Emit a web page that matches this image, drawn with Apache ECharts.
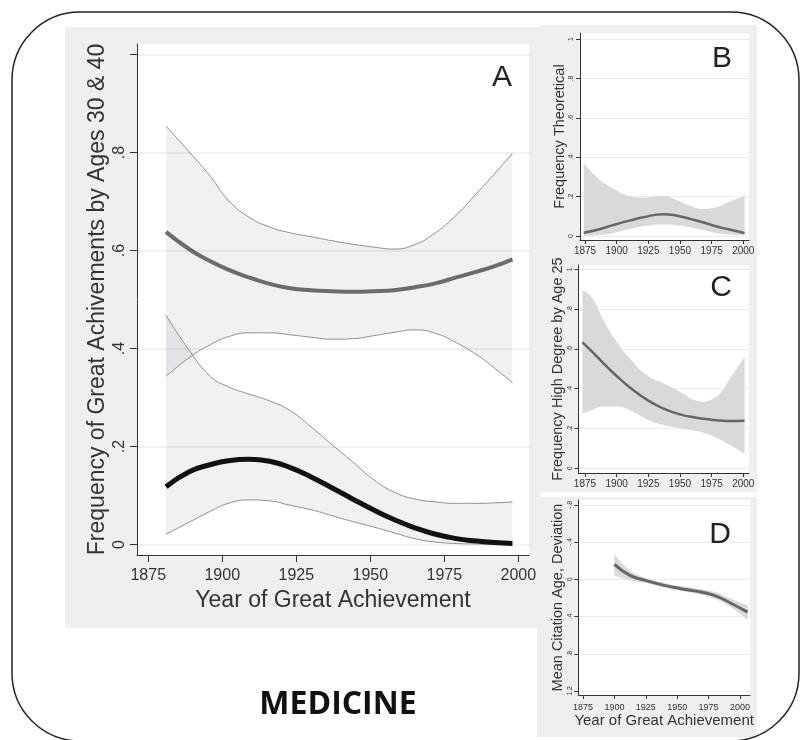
<!DOCTYPE html>
<html>
<head>
<meta charset="utf-8">
<script src="https://cdn.jsdelivr.net/npm/echarts@6/dist/echarts.min.js"></script>
<style>
  html, body { margin: 0; padding: 0; background: #fff; }
  #chart { width: 801px; height: 740px; }
</style>
</head>
<body>
<div id="chart"></div>
<script>
  // panel A: achievements by age 40 (upper) and age 30 (lower)
  const yearsA = [1881, 1889, 1896, 1902, 1909, 1916, 1923, 1930, 1937, 1944, 1951, 1958, 1965, 1972, 1979, 1986, 1992, 1998]
  const age40Fit = [0.638, 0.602, 0.578, 0.561, 0.545, 0.532, 0.523, 0.519, 0.517, 0.516, 0.517, 0.519, 0.525, 0.533, 0.545, 0.557, 0.568, 0.582]
  const age40Lo = [0.343, 0.382, 0.408, 0.424, 0.432, 0.432, 0.428, 0.423, 0.419, 0.420, 0.426, 0.433, 0.438, 0.431, 0.412, 0.387, 0.360, 0.330]
  const age40Hi = [0.854, 0.800, 0.751, 0.703, 0.668, 0.648, 0.636, 0.628, 0.620, 0.613, 0.607, 0.603, 0.612, 0.636, 0.672, 0.717, 0.757, 0.798]
  const age30Fit = [0.118, 0.149, 0.163, 0.171, 0.174, 0.170, 0.157, 0.138, 0.116, 0.093, 0.071, 0.051, 0.034, 0.021, 0.012, 0.007, 0.004, 0.002]
  const age30Lo = [0.021, 0.046, 0.068, 0.084, 0.091, 0.089, 0.080, 0.071, 0.059, 0.047, 0.036, 0.024, 0.012, 0.005, 0.002, 0.001, 0.000, 0.000]
  const age30Hi = [0.468, 0.395, 0.343, 0.322, 0.307, 0.293, 0.273, 0.240, 0.204, 0.169, 0.133, 0.107, 0.093, 0.087, 0.084, 0.084, 0.085, 0.087]

  // panel B: frequency theoretical
  const yearsB = [1874, 1885, 1897, 1910, 1921, 1937, 1947, 1958, 1968, 1979, 1989, 2001]
  const theoFit = [0.017, 0.032, 0.055, 0.078, 0.095, 0.111, 0.104, 0.087, 0.070, 0.048, 0.033, 0.015]
  const theoLo = [0.000, 0.005, 0.014, 0.035, 0.050, 0.059, 0.055, 0.045, 0.030, 0.015, 0.007, 0.003]
  const theoHi = [0.369, 0.295, 0.242, 0.203, 0.195, 0.203, 0.183, 0.154, 0.137, 0.146, 0.174, 0.203]

  // panel C: frequency high degree by age 25
  const yearsC = [1873, 1880, 1890, 1900, 1912, 1925, 1937, 1950, 1963, 1969, 1976, 1982, 1990, 2001]
  const degreeFit = [0.633, 0.590, 0.525, 0.464, 0.398, 0.340, 0.300, 0.271, 0.254, 0.249, 0.243, 0.240, 0.238, 0.239]
  const degreeLo = [0.276, 0.292, 0.310, 0.310, 0.287, 0.243, 0.218, 0.201, 0.187, 0.178, 0.162, 0.143, 0.115, 0.075]
  const degreeHi = [0.893, 0.862, 0.740, 0.636, 0.540, 0.462, 0.427, 0.385, 0.340, 0.335, 0.350, 0.380, 0.455, 0.561]

  // panel D: mean citation age deviation
  const yearsD = [1900, 1912, 1924, 1939, 1952, 1965, 1979, 1992, 2006]
  const citeFit = [-0.161, -0.046, 0.008, 0.061, 0.097, 0.126, 0.169, 0.251, 0.352]
  const citeLo = [-0.272, -0.100, -0.021, 0.036, 0.072, 0.097, 0.133, 0.204, 0.276]
  const citeHi = [-0.046, 0.008, 0.036, 0.086, 0.122, 0.151, 0.204, 0.294, 0.437]

  const yearTicks = [1875, 1900, 1925, 1950, 1975, 2000]
  const freqTicks = [0, 0.2, 0.4, 0.6, 0.8, 1]
  const freqLabelsA = [0, 0.2, 0.4, 0.6, 0.8]
  const citeTicks = [-0.8, -0.4, 0, 0.4, 0.8, 1.2]

  const ink = '#333'

  function fmt(v) {
    if (Math.abs(v) < 1e-9) return '0'
    return String(+v.toFixed(2)).replace('0.', '.')
  }

  function pairs(xs, ys) {
    return xs.map((x, i) => [x, ys[i]])
  }

  // value first, year second, so the stack runs on the y values
  function band(idx, stack, xs, lo, hi, fill, edge) {
    const line = edge ? { color: '#8e8e8e', width: 1 } : { width: 0 }
    const common = {
      type: 'line', xAxisIndex: idx, yAxisIndex: idx, stack: stack, stackStrategy: 'all',
      encode: { x: 1, y: 0 }, smooth: 0.5, symbol: 'none', lineStyle: line, silent: true
    }
    return [
      Object.assign({}, common, {
        data: xs.map((x, i) => [lo[i], x])
      }),
      Object.assign({}, common, {
        data: xs.map((x, i) => [+(hi[i] - lo[i]).toFixed(4), x]),
        areaStyle: { color: fill, opacity: 1 }
      })
    ]
  }

  function fitLine(idx, xs, ys, color, width) {
    return {
      type: 'line', xAxisIndex: idx, yAxisIndex: idx,
      data: pairs(xs, ys), smooth: 0.5, symbol: 'none', silent: true,
      lineStyle: { color: color, width: width }
    }
  }

  function xAxis(idx, min, max, fontSize, margin, name, nameSize, nameGap) {
    return {
      gridIndex: idx, type: 'value', min: min, max: max,
      axisLine: { onZero: false, lineStyle: { color: ink, width: 1 } },
      axisTick: { customValues: yearTicks, length: fontSize > 12 ? 7 : 4, lineStyle: { color: ink } },
      axisLabel: { customValues: yearTicks, fontSize: fontSize, color: ink, margin: margin, formatter: v => String(v) },
      splitLine: { show: false },
      name: name, nameLocation: 'middle', nameGap: nameGap,
      nameTextStyle: { fontSize: nameSize, color: ink }
    }
  }

  function yAxis(idx, min, max, ticks, labels, fontSize, margin, name, nameSize, nameGap, inverse) {
    return {
      gridIndex: idx, type: 'value', min: min, max: max, inverse: !!inverse,
      axisLine: { show: true, onZero: false, lineStyle: { color: ink, width: 1 } },
      axisTick: { show: true, customValues: ticks, length: fontSize > 12 ? 7 : 4, lineStyle: { color: ink } },
      axisLabel: { customValues: labels, rotate: 90, fontSize: fontSize, color: ink, margin: margin, formatter: fmt },
      splitLine: { show: true, lineStyle: { color: '#ececec', width: fontSize > 12 ? 1.5 : 1 } },
      name: name, nameLocation: 'middle', nameGap: nameGap,
      nameTextStyle: { fontSize: nameSize, color: ink }
    }
  }

  function letter(t, x, y) {
    return {
      type: 'text', z: 100,
      style: {
        text: t, x: x, y: y, fill: '#222', fontSize: 30, fontFamily: 'Liberation Sans',
        align: 'center', verticalAlign: 'middle', textAlign: 'center', textVerticalAlign: 'middle'
      }
    }
  }

  const chart = echarts.init(document.getElementById('chart'), null, { renderer: 'canvas' })

  const bandFillA = 'rgba(110, 110, 125, 0.095)'
  const bandFill = '#d9d9db'

  chart.setOption({
    animation: false,
    backgroundColor: '#fff',
    textStyle: { fontFamily: 'Liberation Sans' },
    graphic: [
      { type: 'rect', z: -100, shape: { x: 65, y: 27, width: 475, height: 601 }, style: { fill: '#efefef' } },
      { type: 'rect', z: -100, shape: { x: 540, y: 25, width: 217, height: 467 }, style: { fill: '#efefef' } },
      { type: 'rect', z: -100, shape: { x: 537, y: 497, width: 220, height: 240 }, style: { fill: '#efefef' } },
      { type: 'rect', z: 100, shape: { x: 12, y: 12, width: 787, height: 729, r: 68 }, style: { fill: 'none', stroke: '#222', lineWidth: 1.5 } },
      letter('A', 502, 78),
      letter('B', 722, 59),
      letter('C', 721, 288),
      letter('D', 720, 535),
      {
        type: 'text', z: 100,
        style: {
          text: 'MEDICINE', x: 338, y: 705, fill: '#111', fontSize: 32, fontWeight: 'bold', fontFamily: 'Open Sans',
          align: 'center', verticalAlign: 'middle', textAlign: 'center', textVerticalAlign: 'middle'
        }
      }
    ],
    grid: [
      { left: 137, top: 44, width: 392, height: 511, show: true, backgroundColor: '#fff', borderWidth: 0 },
      { left: 580, top: 33, width: 169, height: 207, show: true, backgroundColor: '#fff', borderWidth: 0 },
      { left: 578.5, top: 265, width: 170.5, height: 208, show: true, backgroundColor: '#fff', borderWidth: 0 },
      { left: 578.3, top: 500, width: 171.7, height: 195, show: true, backgroundColor: '#fff', borderWidth: 0 }
    ],
    xAxis: [
      xAxis(0, 1871.2, 2003.6, 16, 13, 'Year of Great Achievement', 23, 28),
      xAxis(1, 1871.05, 2004.5, 10, 6, '', 10, 10),
      xAxis(2, 1869.87, 2004.5, 10, 6, '', 10, 10),
      xAxis(3, 1871.26, 2007.96, 9, 8, 'Year of Great Achievement', 15, 14)
    ],
    yAxis: [
      yAxis(0, -0.0214, 1.0214, freqTicks, freqLabelsA, 16, 9, 'Frequency of Great Achivements by Ages 30 & 40', 23, 28),
      yAxis(1, -0.0203, 1.0305, freqTicks, freqTicks, 7, 5, 'Frequency Theoretical', 14.5, 13),
      yAxis(2, -0.0236, 1.0216, freqTicks, freqTicks, 7, 5, 'Frequency High Degree by Age 25', 14.5, 12),
      yAxis(3, -0.854, 1.243, citeTicks, citeTicks, 7, 5, 'Mean Citation Age, Deviation', 14.5, 12, true)
    ],
    series: [
      ...band(0, 'a40', yearsA, age40Lo, age40Hi, bandFillA, true),
      ...band(0, 'a30', yearsA, age30Lo, age30Hi, bandFillA, true),
      fitLine(0, yearsA, age40Fit, '#6b6b6b', 4),
      fitLine(0, yearsA, age30Fit, '#111', 5),
      ...band(1, 'b', yearsB, theoLo, theoHi, bandFill, false),
      fitLine(1, yearsB, theoFit, '#666', 2.5),
      ...band(2, 'c', yearsC, degreeLo, degreeHi, bandFill, false),
      fitLine(2, yearsC, degreeFit, '#666', 2.5),
      ...band(3, 'd', yearsD, citeLo, citeHi, bandFill, false),
      fitLine(3, yearsD, citeFit, '#666', 3)
    ]
  })
</script>
</body>
</html>
